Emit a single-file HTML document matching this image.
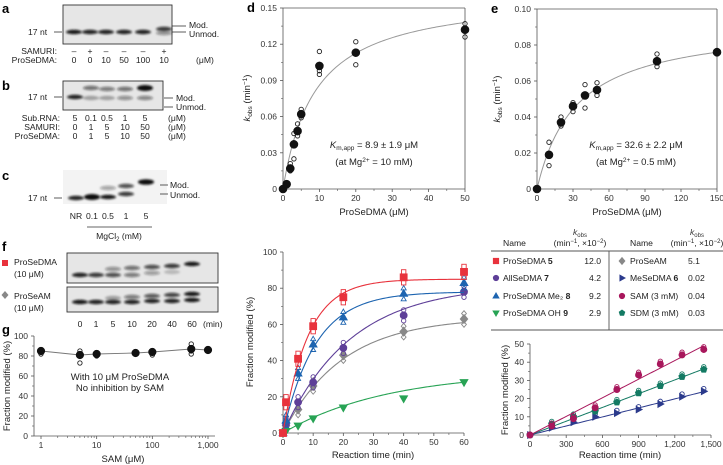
<!DOCTYPE html>
<html><head><meta charset="utf-8">
<style>
body{margin:0;background:#fff;}
svg{display:block;font-family:"Liberation Sans",sans-serif;}
.t{font-size:8.5px;fill:#333;}
.l{font-size:9.5px;fill:#222;}
.s{font-size:8.6px;fill:#222;}
.p{font-size:13px;font-weight:bold;fill:#000;}
</style></head>
<body>
<svg id="fig" width="723" height="465" viewBox="0 0 723 465" xmlns="http://www.w3.org/2000/svg">
<defs><filter id="blur" x="-20%" y="-50%" width="140%" height="200%"><feGaussianBlur stdDeviation="1.1"/></filter></defs>
<g id="gels"></g>
<g id="charts"></g>
</svg>
<script>
// ---------- data ----------
const dX = [0,1,2,3,4,5,10,20,50];
const dMean = [0,0.004,0.017,0.037,0.048,0.062,0.102,0.113,0.132];
const dReps = [[0,0],[0.004,0.005],[0.015,0.021,0.016],[0.025,0.046,0.037],[0.044,0.054,0.047],[0.059,0.066,0.062],[0.095,0.114,0.098],[0.103,0.122,0.113],[0.126,0.137,0.131]];
const dKm = 8.9, dVmax = 0.1626;
const dXTicks = [0,10,20,30,40,50];
const dYTicks = [0,0.03,0.06,0.09,0.12,0.15];

const eX = [0,10,20,30,40,50,100,150];
const eMean = [0,0.019,0.037,0.046,0.052,0.055,0.071,0.076];
const eReps = [[0],[0.013,0.026,0.019],[0.035,0.040,0.037],[0.043,0.048,0.047],[0.045,0.058,0.052],[0.052,0.059,0.055],[0.068,0.075,0.070],[0.075,0.077]];
const eKm = 32.6, eVmax = 0.0925;
const eXTicks = [0,30,60,90,120,150];
const eYTicks = [0,0.02,0.04,0.06,0.08,0.10];

const kTimes = [0,1,5,10,20,40,60];
const kRed = [0,17,41,59,75,86,89];
const kBlue = [0,7,33,49,64,77,83];
const kPurple = [0,5,17,28,47,65,78];
const kGray = [0,4,13,26,43,56,63];
const kGreen = [0,1,4,8,14,19,28];
const kXTicks = [0,10,20,30,40,50,60];
const kYTicks = [0,20,40,60,80,100];

const lTimes = [0,180,360,540,720,900,1080,1260,1440];
const lSAM = [0,5,9,15,25,33,39,44,47];
const lSDM = [0,6,10,13,18,23,27,32,36];
const lMe = [0,4,7,10,12,14,17,21,24];
const lXTicks = [0,300,600,900,1200,1500];
const lXLabels = ["0","300","600","900","1,200","1,500"];
const lYTicks = [0,10,20,30,40,50];

const gConc = [1,5,10,50,100,500,1000];
const gMean = [85,81,82,83,84,87,86];
const gReps = [[82,86],[73,85,80],[80,83],[82,84],[81,85],[82,92,85],[86]];
const gXTicks = [1,10,100,1000];
const gXLabels = ["1","10","100","1,000"];
const gYTicks = [0,20,40,60,80,100];

// ---------- helpers ----------
const NS="http://www.w3.org/2000/svg";
const fig=document.getElementById('charts');
const gelG=document.getElementById('gels');
function el(tag,attrs,parent){const e=document.createElementNS(NS,tag);for(const k in attrs)e.setAttribute(k,attrs[k]);(parent||fig).appendChild(e);return e;}
function txt(x,y,s,cls,anchor,parent,extra){const e=el('text',Object.assign({x:x,y:y,class:cls||'t','text-anchor':anchor||'start'},extra||{}),parent);e.textContent=s;return e;}
function lin(d0,d1,r0,r1){return v=>r0+(v-d0)/(d1-d0)*(r1-r0);}

function axes(g,sx,sy,x0,x1,y0,y1,xt,xl,yt,yl,box,minorX,minorY){
  el('line',{x1:x0,y1:y0,x2:x0,y2:y1,stroke:'#555','stroke-width':0.8},g);
  el('line',{x1:x0,y1:y0,x2:x1,y2:y0,stroke:'#555','stroke-width':0.8},g);
  if(box){el('line',{x1:x1,y1:y0,x2:x1,y2:y1,stroke:'#555','stroke-width':0.8},g);el('line',{x1:x0,y1:y1,x2:x1,y2:y1,stroke:'#555','stroke-width':0.8},g);}
  xt.forEach((v,i)=>{const x=sx(v);el('line',{x1:x,y1:y0,x2:x,y2:y0+3,stroke:'#555','stroke-width':0.8},g);const t=txt(x,y0+12,xl?xl[i]:String(v),'t','middle',g);});
  yt.forEach((v,i)=>{const y=sy(v);el('line',{x1:x0,y1:y,x2:x0-3,y2:y,stroke:'#555','stroke-width':0.8},g);const t=txt(x0-6,y+3,yl?yl[i]:String(v),'t','end',g);});
  if(minorX){for(let i=0;i<xt.length-1;i++){const m=(xt[i]+xt[i+1])/2;const x=sx(m);el('line',{x1:x,y1:y0,x2:x,y2:y0+2,stroke:'#555','stroke-width':0.6},g);}}
  if(minorY){for(let i=0;i<yt.length-1;i++){const m=(yt[i]+yt[i+1])/2;const y=sy(m);el('line',{x1:x0,y1:y,x2:x0-2,y2:y,stroke:'#555','stroke-width':0.6},g);}}
}
function marker(g,shape,x,y,r,fill,stroke,open){
  const f=open?'none':fill, s=stroke||fill, w=open?0.9:0.6;
  let e;
  if(shape==='circle') e=el('circle',{cx:x,cy:y,r:r,fill:f,stroke:s,'stroke-width':w},g);
  else if(shape==='square') e=el('rect',{x:x-r,y:y-r,width:2*r,height:2*r,fill:f,stroke:s,'stroke-width':w},g);
  else if(shape==='tri') e=el('polygon',{points:`${x},${y-r*1.2} ${x-r*1.15},${y+r*0.8} ${x+r*1.15},${y+r*0.8}`,fill:f,stroke:s,'stroke-width':w},g);
  else if(shape==='tridown') e=el('polygon',{points:`${x},${y+r*1.2} ${x-r*1.15},${y-r*0.8} ${x+r*1.15},${y-r*0.8}`,fill:f,stroke:s,'stroke-width':w},g);
  else if(shape==='diamond') e=el('polygon',{points:`${x},${y-r*1.3} ${x+r*1.1},${y} ${x},${y+r*1.3} ${x-r*1.1},${y}`,fill:f,stroke:s,'stroke-width':w},g);
  else if(shape==='triright') e=el('polygon',{points:`${x+r*1.2},${y} ${x-r*0.8},${y-r*1.1} ${x-r*0.8},${y+r*1.1}`,fill:f,stroke:s,'stroke-width':w},g);
  else if(shape==='pent'){let p=[];for(let i=0;i<5;i++){const a=-Math.PI/2+i*2*Math.PI/5;p.push((x+r*1.1*Math.cos(a))+','+(y+r*1.1*Math.sin(a)));}e=el('polygon',{points:p.join(' '),fill:f,stroke:s,'stroke-width':w},g);}
  return e;
}
function curve(g,fn,d0,d1,sx,sy,color,w){let p='';for(let i=0;i<=120;i++){const v=d0+(d1-d0)*i/120;p+=(i?'L':'M')+sx(v).toFixed(2)+','+sy(fn(v)).toFixed(2);}return el('path',{d:p,fill:'none',stroke:color,'stroke-width':w||1},g);}

// ---------- panel d ----------
(function(){
  const g=el('g',{});
  
  
  const x0=283,x1=465,y0=189,y1=8;
  const sx=lin(0,50,x0,x1), sy=lin(0,0.15,y0,y1);
  axes(g,sx,sy,x0,x1,y0,y1,dXTicks,null,dYTicks,["0","0.03","0.06","0.09","0.12","0.15"],true,true,true);
  const c=curve(g,v=>dVmax*v/(dKm+v),0,50,sx,sy,'#999',1);
  
  
  dX.forEach((x,i)=>{dReps[i].forEach(r=>{const m=marker(g,'circle',sx(x),sy(r),2.2,'#000','#222',true);});
    const m=marker(g,'circle',sx(x),sy(dMean[i]),4,'#111');});
  const a=txt(374,148,'','l','middle',g);a.innerHTML='<tspan font-style="italic">K</tspan><tspan font-size="6.5" dy="2">m,app</tspan><tspan dy="-2"> = 8.9 ± 1.9 μM</tspan>';
  
  const b=txt(374,165,'','l','middle',g);b.innerHTML='(at Mg<tspan font-size="6.5" dy="-3">2+</tspan><tspan dy="3"> = 10 mM)</tspan>';
  
  const xt=txt(374,215,'ProSeDMA (μM)','l','middle',g);
  const yt=txt(0,0,'','l','middle',g,{transform:'translate(250,98) rotate(-90)'});yt.innerHTML='<tspan font-style="italic">k</tspan><tspan font-size="6.5" dy="2">obs</tspan><tspan dy="-2"> (min</tspan><tspan font-size="6.5" dy="-3">−1</tspan><tspan dy="3">)</tspan>';
  
  const p=txt(247,12,'d','p','start',g);
})();

// ---------- panel e ----------
(function(){
  const g=el('g',{});
  
  
  const x0=537,x1=717,y0=189,y1=9;
  const sx=lin(0,150,x0,x1), sy=lin(0,0.10,y0,y1);
  axes(g,sx,sy,x0,x1,y0,y1,eXTicks,null,eYTicks,["0","0.02","0.04","0.06","0.08","0.10"],true,true,true);
  const c=curve(g,v=>eVmax*v/(eKm+v),0,150,sx,sy,'#999',1);
  
  
  eX.forEach((x,i)=>{eReps[i].forEach(r=>{const m=marker(g,'circle',sx(x),sy(r),2.2,'#000','#222',true);});
    const m=marker(g,'circle',sx(x),sy(eMean[i]),4,'#111');});
  const a=txt(636,148,'','l','middle',g);a.innerHTML='<tspan font-style="italic">K</tspan><tspan font-size="6.5" dy="2">m,app</tspan><tspan dy="-2"> = 32.6 ± 2.2 μM</tspan>';
  
  const b=txt(636,165,'','l','middle',g);b.innerHTML='(at Mg<tspan font-size="6.5" dy="-3">2+</tspan><tspan dy="3"> = 0.5 mM)</tspan>';
  
  const xt=txt(627,215,'ProSeDMA (μM)','l','middle',g);
  const yt=txt(0,0,'','l','middle',g,{transform:'translate(500,99) rotate(-90)'});yt.innerHTML='<tspan font-style="italic">k</tspan><tspan font-size="6.5" dy="2">obs</tspan><tspan dy="-2"> (min</tspan><tspan font-size="6.5" dy="-3">−1</tspan><tspan dy="3">)</tspan>';
  
  const p=txt(491,13,'e','p','start',g);
})();

// ---------- kinetics panel ----------
(function(){
  const g=el('g',{});
  
  
  const x0=283,x1=464,y0=433,y1=252;
  const sx=lin(0,60,x0,x1), sy=lin(0,100,y0,y1);
  axes(g,sx,sy,x0,x1,y0,y1,kXTicks,null,kYTicks,null,false,true,true);
  const series=[
    {name:'proseam',vals:kGray,color:'#888',shape:'diamond',A:64,k:0.051},
    {name:'allsedma',vals:kPurple,color:'#5e3f98',shape:'circle',A:82,k:0.045},
    {name:'prosedma-oh',vals:kGreen,color:'#27a354',shape:'tridown',A:34,k:0.029},
    {name:'prosedma-me2',vals:kBlue,color:'#1d64b0',shape:'tri',A:78,k:0.092},
    {name:'prosedma',vals:kRed,color:'#e8323c',shape:'square',A:85,k:0.12}
  ];
  series.forEach(s=>{
    const sg=el('g',{},g);
    
    
    const c=curve(sg,t=>s.A*(1-Math.exp(-s.k*t)),0,60,sx,sy,s.color,1.1);
    
    
    kTimes.forEach((t,i)=>{
      if(s.name!=='prosedma-oh'&&i>0){const v=s.vals[i];
        [v-3,v+3].forEach(r=>{const m=marker(sg,s.shape,sx(t),sy(r),2.2,s.color,s.color,true);});}
      const m=marker(sg,s.shape,sx(t),sy(s.vals[i]),3.6,s.color);
      
      
    });
  });
  const xt=txt(373,458,'Reaction time (min)','l','middle',g);
  const yt=txt(0,0,'Fraction modified (%)','l','middle',g,{transform:'translate(253,342) rotate(-90)'});
})();

// ---------- table ----------
(function(){
  const g=el('g',{});
  
  
  const h1=txt(503,246,'Name','s','start',g);
  const h2=txt(630,246,'Name','s','start',g);
  [[580],[697]].forEach(([x])=>{
    const k=txt(x,235,'','t','middle',g);k.innerHTML='<tspan font-style="italic">k</tspan><tspan font-size="6" dy="2">obs</tspan>';
    
    const u=txt(x,246,'','s','middle',g);u.innerHTML='(min<tspan font-size="6" dy="-3">−1</tspan><tspan dy="3">, ×10</tspan><tspan font-size="6" dy="-3">−2</tspan><tspan dy="3">)</tspan>';
    
  });
  el('line',{x1:491,y1:251,x2:723,y2:251,stroke:'#555','stroke-width':0.9},g);
  el('line',{x1:491,y1:330,x2:723,y2:330,stroke:'#555','stroke-width':0.9},g);
  el('line',{x1:609,y1:251,x2:609,y2:330,stroke:'#555','stroke-width':0.9},g);
  const rowsL=[['square','#e8323c','ProSeDMA ','5','12.0'],['circle','#5e3f98','AllSeDMA ','7','4.2'],['tri','#1d64b0','ProSeDMA Me₂ ','8','9.2'],['tridown','#27a354','ProSeDMA OH ','9','2.9']];
  const rowsR=[['diamond','#888','ProSeAM','','5.1'],['triright','#2b3a8c','MeSeDMA ','6','0.02'],['circle','#a8175c','SAM (3 mM)','','0.04'],['pent','#137a63','SDM (3 mM)','','0.03']];
  const ys=[264,281,299,316];
  rowsL.forEach((r,i)=>{const m=marker(g,r[0],496,ys[i]-3,2.8,r[1]);
    const t=txt(503,ys[i],'','s','start',g);t.innerHTML=r[2]+'<tspan font-weight="bold">'+r[3]+'</tspan>';
    const v=txt(601,ys[i],r[4],'s','end',g);});
  rowsR.forEach((r,i)=>{const m=marker(g,r[0],622,ys[i]-3,2.8,r[1]);
    const t=txt(630,ys[i],'','s','start',g);t.innerHTML=r[2]+'<tspan font-weight="bold">'+r[3]+'</tspan>';
    const v=txt(688,ys[i],r[4],'s','start',g);});
})();

// ---------- linear panel ----------
(function(){
  const g=el('g',{});
  
  
  const x0=530,x1=711,y0=435,y1=344;
  const sx=lin(0,1500,x0,x1), sy=lin(0,50,y0,y1);
  axes(g,sx,sy,x0,x1,y0,y1,lXTicks,lXLabels,lYTicks,null,false,true,true);
  const series=[{name:'mesedma',vals:lMe,color:'#2b3a8c',shape:'triright'},{name:'sdm',vals:lSDM,color:'#137a63',shape:'pent'},{name:'sam',vals:lSAM,color:'#a8175c',shape:'circle'}];
  series.forEach(s=>{
    const sg=el('g',{},g);
    
    
    let sxy=0,sxx=0;lTimes.forEach((t,i)=>{sxy+=t*s.vals[i];sxx+=t*t;});const slope=sxy/sxx;
    const c=curve(sg,t=>slope*t,0,1440,sx,sy,s.color,1);
    
    
    lTimes.forEach((t,i)=>{if(i>0){const m0=marker(sg,'circle',sx(t),sy(s.vals[i]+1.5),2.2,s.color,s.color,true);}
      const m=marker(sg,s.shape,sx(t),sy(s.vals[i]),3.2,s.color);});
  });
  const xt=txt(620,458,'Reaction time (min)','l','middle',g);
  const yt=txt(0,0,'Fraction modified (%)','l','middle',g,{transform:'translate(508,390) rotate(-90)'});
})();

// ---------- panel g ----------
(function(){
  const g=el('g',{});
  
  
  const x0=34,x1=215,y0=436,y1=336;
  const sxl=lin(0,3,41,208), sx=v=>sxl(Math.log10(v)), sy=lin(0,100,y0,y1);
  axes(g,sx,sy,x0,x1,y0,y1,gXTicks,gXLabels,gYTicks,null,false,false,true);
  for(let d=1;d<1000;d*=10){for(let k=2;k<=9;k++){const x=sx(d*k);el('line',{x1:x,y1:y0,x2:x,y2:y0+2,stroke:'#555','stroke-width':0.6},g);}}
  let p='';gConc.forEach((c,i)=>{p+=(i?'L':'M')+sx(c)+','+sy(gMean[i]);});
  const ln=el('path',{d:p,fill:'none',stroke:'#777','stroke-width':0.9},g);
  
  gConc.forEach((c,i)=>{gReps[i].forEach(r=>{const m=marker(g,'circle',sx(c),sy(r),2.2,'#000','#222',true);});
    const m=marker(g,'circle',sx(c),sy(gMean[i]),3.8,'#111');});
  const a=txt(120,380,'With 10 μM ProSeDMA','l','middle',g);
  const b=txt(120,391,'No inhibition by SAM','l','middle',g);
  const xt=txt(123,462,'SAM (μM)','l','middle',g);
  const yt=txt(0,0,'Fraction modified (%)','l','middle',g,{transform:'translate(10,386) rotate(-90)'});
  const pl=txt(2,334,'g','p','start',g);
})();

// ---------- gels ----------
function gel(name,x,y,w,h,border,lanes,bands){
  const g=el('g',{},gelG);
  
  
  el('rect',{x:x,y:y,width:w,height:h,fill:border?'#e6e6e6':'#f3f3f3',stroke:border?'#333':'none','stroke-width':0.9},g);
  lanes.forEach((lx,i)=>{bands[i].forEach(b=>{const e=el('ellipse',{cx:lx,cy:b[0],rx:8,ry:b[2]||2.2,fill:'#111','fill-opacity':b[1],filter:'url(#blur)'},g);});});
  return g;
}
function lbl(x,y,s,anchor,name){const t=txt(x,y,s,'s',anchor||'start',gelG);return t;}
function tick(x1,y1,x2,y2){el('line',{x1:x1,y1:y1,x2:x2,y2:y2,stroke:'#333','stroke-width':0.8},gelG);}

// a
lbl(2,13,'a','start','panel-label').setAttribute('class','p');
gel('gel-a',63,5,109,39,true,[74,90,106,124,143,164],[[[32,0.95]],[[32,0.9]],[[32,0.9]],[[32,0.9]],[[32,0.9]],[[29,0.8],[33,0.4]]]);
lbl(28,35,'17 nt');tick(54,32,62,32);
tick(172,26,186,26);tick(172,32,186,32);lbl(189,28,'Mod.');lbl(189,37,'Unmod.');
lbl(57,54,'SAMURI:','end');lbl(57,63,'ProSeDMA:','end');
['–','+','–','–','–','+'].forEach((s,i)=>lbl([74,90,106,124,143,164][i],54,s,'middle'));
['0','0','10','50','100','10'].forEach((s,i)=>lbl([74,90,106,124,143,164][i],63,s,'middle'));
lbl(196,63,'(μM)');
// b
lbl(2,90,'b','start','panel-label').setAttribute('class','p');
gel('gel-b',63,81,100,29,true,[75,91,107,125,145],[[[97,0.9]],[[88,0.55],[98,0.3]],[[89,0.5],[98,0.3]],[[89,0.55],[98,0.4]],[[88,1,3],[98,0.45]]]);
lbl(28,100,'17 nt');tick(54,97,62,97);
tick(164,98,173,98);tick(164,107,173,107);lbl(176,101,'Mod.');lbl(176,110,'Unmod.');
lbl(60,121,'Sub.RNA:','end');lbl(60,130,'SAMURI:','end');lbl(60,139,'ProSeDMA:','end');
[['5','0.1','0.5','1','5'],['0','1','5','10','50'],['0','1','5','10','50']].forEach((row,r)=>{row.forEach((s,i)=>lbl([75,91,107,125,145][i],121+9*r,s,'middle'));lbl(168,121+9*r,'(μM)');});
// c
lbl(2,180,'c','start','panel-label').setAttribute('class','p');
gel('gel-c',63,170,104,34,false,[76,92,108,126,146],[[[198,0.9]],[[197,1,3]],[[188,0.35],[197,0.95]],[[186,0.7],[194,0.8]],[[182,1,2.8]]]);
lbl(28,201,'17 nt');tick(54,198,62,198);
tick(160,185,168,185);tick(160,194,168,194);lbl(170,188,'Mod.');lbl(170,198,'Unmod.');
['NR','0.1','0.5','1','5'].forEach((s,i)=>lbl([76,92,108,126,146][i],219,s,'middle'));
tick(87,227,152,227);
const mg=lbl(119,239,'','middle');mg.innerHTML='MgCl<tspan font-size="6" dy="2">2</tspan><tspan dy="-2"> (mM)</tspan>';
// f
lbl(2,251,'f','start','panel-label').setAttribute('class','p');
const fl=[80,96,113,132,152,172,192];
gel('gel-f-prosedma',67,253,151,30,true,fl,[[[275,0.9]],[[275,0.8]],[[269,0.4],[275,0.7]],[[268,0.55],[275,0.5]],[[267,0.7],[273,0.35]],[[266,0.8],[272,0.2]],[[264,0.95]]]);
gel('gel-f-proseam',67,287,151,25,true,fl,[[[302,0.95]],[[302,0.9]],[[298,0.3],[302,0.9]],[[297,0.5],[302,0.9]],[[296,0.65],[301,0.9]],[[295,0.75],[301,0.9]],[[294,0.95],[300,0.95]]]);
el('rect',{x:2,y:260,width:6,height:6,fill:'#e8323c'},gelG);
el('polygon',{points:'5,291 8.5,295 5,299 1.5,295',fill:'#888'},gelG);
lbl(14,265,'ProSeDMA');lbl(14,277,'(10 μM)');lbl(14,299,'ProSeAM');lbl(14,311,'(10 μM)');
['0','1','5','10','20','40','60'].forEach((s,i)=>lbl(fl[i],327,s,'middle'));lbl(203,327,'(min)');
</script>
</body></html>
